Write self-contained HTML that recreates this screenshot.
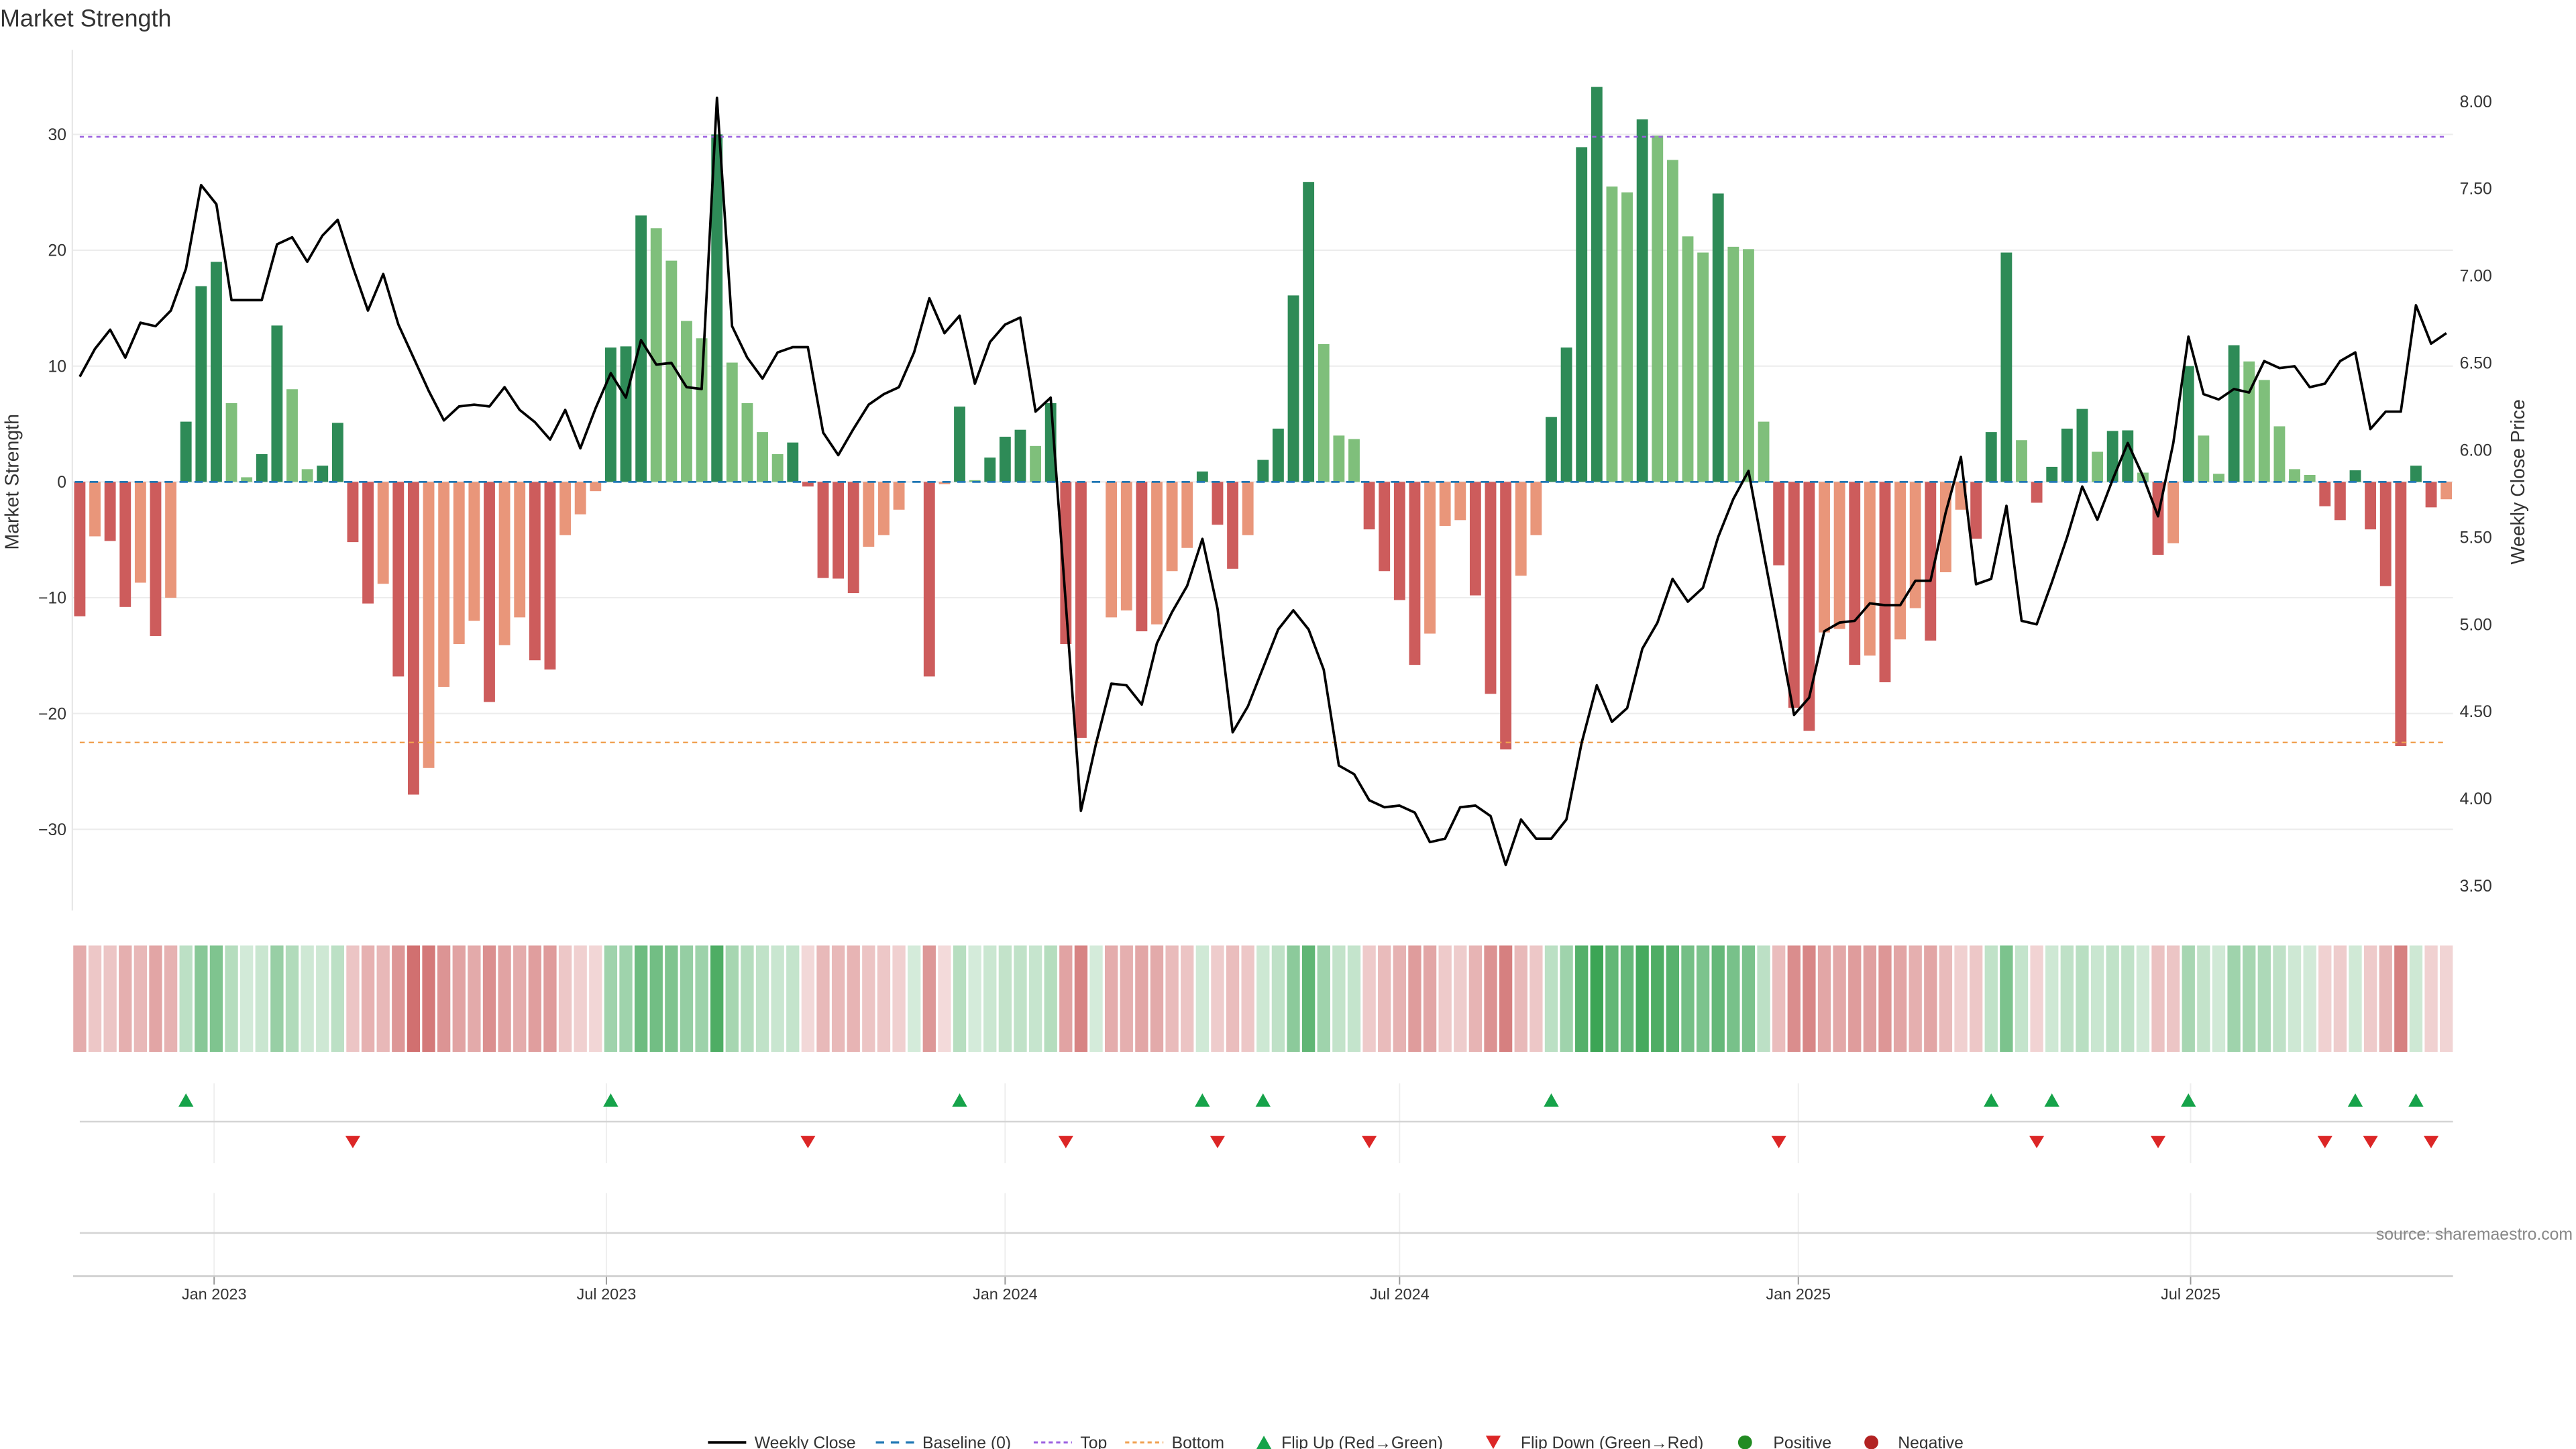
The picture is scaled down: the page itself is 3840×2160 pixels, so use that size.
<!DOCTYPE html>
<html><head><meta charset="utf-8"><title>Market Strength</title>
<style>
html,body{margin:0;padding:0;background:#fff;}
svg{display:block;font-family:"Liberation Sans","DejaVu Sans",sans-serif;}
</style></head>
<body>
<svg id="chart" width="3840" height="2160" viewBox="0 0 1550 872" preserveAspectRatio="none" xmlns="http://www.w3.org/2000/svg">
<text x="0" y="16" font-size="14.5" fill="#333">Market Strength</text>
<g id="main"></g>
</svg>
<script>
const startDate = "2022-10-31";
const strength = [-11.6,-4.7,-5.1,-10.8,-8.7,-13.3,-10,5.2,16.9,19,6.8,0.4,2.4,13.5,8,1.1,1.4,5.1,-5.2,-10.5,-8.8,-16.8,-27,-24.7,-17.7,-14,-12,-19,-14.1,-11.7,-15.4,-16.2,-4.6,-2.8,-0.8,11.6,11.7,23,21.9,19.1,
13.9,12.4,30,10.3,6.8,4.3,2.4,3.4,-0.4,-8.3,-8.35,-9.6,-5.6,-4.6,-2.4,0,-16.8,-0.2,6.5,0.15,2.1,3.9,4.5,3.1,6.8,-14,-22.1,0,-11.7,-11.1,-12.9,-12.3,-7.7,-5.7,0.9,-3.7,-7.5,-4.6,
1.9,4.6,16.1,25.9,11.9,4,3.7,-4.1,-7.7,-10.2,-15.8,-13.1,-3.8,-3.3,-9.8,-18.3,-23.1,-8.1,-4.6,5.6,11.6,28.9,34.1,25.5,25,31.3,29.9,27.8,21.2,19.8,24.9,20.3,20.1,5.2,-7.2,-19.5,-21.5,-13,
-12.7,-15.8,-15,-17.3,-13.6,-10.9,-13.7,-7.8,-2.4,-4.9,4.3,19.8,3.6,-1.8,1.3,4.6,6.3,2.6,4.4,4.45,0.8,-6.3,-5.3,10,4,0.7,11.8,10.4,8.8,4.8,1.1,0.6,-2.1,-3.3,1,-4.1,-9,-22.8,1.4,-2.2,-1.5];
const closePrice = [6.42,6.58,6.69,6.53,6.73,6.71,6.80,7.04,7.52,7.41,6.86,6.86,6.86,7.18,7.22,7.08,7.23,7.32,7.05,6.80,7.01,6.72,6.53,6.34,6.17,6.25,6.26,6.25,6.36,6.23,6.16,6.06,6.23,6.01,6.24,6.44,6.30,6.63,6.49,6.50,
6.36,6.35,8.02,6.71,6.53,6.41,6.56,6.59,6.59,6.10,5.97,6.12,6.26,6.32,6.36,6.56,6.87,6.67,6.77,6.38,6.62,6.72,6.76,6.22,6.30,5.12,3.93,4.32,4.66,4.65,4.54,4.89,5.07,5.22,5.49,5.09,4.38,4.53,
4.75,4.97,5.08,4.97,4.74,4.19,4.14,3.99,3.95,3.96,3.92,3.75,3.77,3.95,3.96,3.90,3.62,3.88,3.77,3.77,3.88,4.32,4.65,4.44,4.52,4.86,5.01,5.26,5.13,5.21,5.50,5.72,5.88,5.41,4.95,4.48,4.58,4.96,
5.01,5.02,5.12,5.11,5.11,5.25,5.25,5.64,5.96,5.23,5.26,5.68,5.02,5.00,5.24,5.50,5.79,5.60,5.83,6.04,5.85,5.62,6.04,6.65,6.32,6.29,6.35,6.33,6.51,6.47,6.48,6.36,6.38,6.51,6.56,6.12,6.22,6.22,6.83,6.61,6.67];
const leftTicks = [-30,-20,-10,0,10,20,30];
const rightTicks = [3.5,4.0,4.5,5.0,5.5,6.0,6.5,7.0,7.5,8.0];
const xTickDates = ["2023-01-01","2023-07-01","2024-01-01","2024-07-01","2025-01-01","2025-07-01"];
const xTickLabels = ["Jan 2023","Jul 2023","Jan 2024","Jul 2024","Jan 2025","Jul 2025"];
const topLevel = [29.8];
const bottomLevel = [-22.5];

const NS="http://www.w3.org/2000/svg";
const g=document.getElementById('main');
function mk(tag,attrs,parent){const e=document.createElementNS(NS,tag);for(const k in attrs)e.setAttribute(k,attrs[k]);(parent||g).appendChild(e);return e;}
const X0=48, STEP=9.128, PL=44, PR=1476;
const t0=Date.parse(startDate+"T00:00:00Z");
function xIdx(i){return X0+i*STEP;}
function xDate(d){return X0+(Date.parse(d+"T00:00:00Z")-t0)/864e5/7*STEP;}
function yL(v){return 290-v*6.97;}
function yR(p){return 61+(8-p)*104.9;}
function fmt(v){return v<0?"\u2212"+Math.abs(v):String(v);}

// grid
leftTicks.forEach(v=>{
  const l=mk('line',{x1:PL,x2:PR,y1:yL(v),y2:yL(v),stroke:'#ececec','stroke-width':0.8});
  
  
  const t=mk('text',{x:40,y:yL(v)+3.5,'font-size':10,'text-anchor':'end',fill:'#333'});
  t.textContent=fmt(v);
  
  
});
rightTicks.forEach(p=>{
  const t=mk('text',{x:1480,y:yR(p)+3.5,'font-size':10,fill:'#333'});
  t.textContent=p.toFixed(2);
  
  
});
const ls=mk('line',{x1:43.5,x2:43.5,y1:30,y2:548,stroke:'#e4e4e4','stroke-width':0.8});


let yt=mk('text',{x:0,y:0,'font-size':11.5,fill:'#333','text-anchor':'middle',transform:'translate(11,290) rotate(-90)'});
yt.textContent='Market Strength';


yt=mk('text',{x:0,y:0,'font-size':11.5,fill:'#333','text-anchor':'middle',transform:'translate(1519,290) rotate(-90)'});
yt.textContent='Weekly Close Price';



// shading rule: dark if |v| grows vs previous nonzero of same sign or sign flips
const barW=6.8;
let prev=0;
const shades=strength.map(v=>{
  let dark;
  if(v===0){return 'none';}
  if(prev===0||Math.sign(prev)!==Math.sign(v))dark=true;else dark=Math.abs(v)>=Math.abs(prev);
  prev=v;
  return v>0?(dark?'#2e8b57':'#7fbf7b'):(dark?'#cd5c5c':'#e9967a');
});
strength.forEach((v,i)=>{
  if(v===0)return;
  const y=Math.min(yL(v),yL(0)),h=Math.abs(yL(v)-yL(0));
  const r=mk('rect',{x:xIdx(i)-barW/2,y:y,width:barW,height:Math.max(h,0.4),fill:shades[i]});
  
  
});
// baseline
const bl=mk('line',{x1:X0-3,x2:xIdx(strength.length-1)+3,y1:yL(0),y2:yL(0),stroke:'#1f77b4','stroke-width':1.1,'stroke-dasharray':'5 4'});


const tl=mk('line',{x1:X0,x2:xIdx(strength.length-1),y1:yL(topLevel[0]),y2:yL(topLevel[0]),stroke:'#9b5fe0','stroke-width':1,'stroke-dasharray':'2.5 2.5'});


const bt=mk('line',{x1:X0,x2:xIdx(strength.length-1),y1:yL(bottomLevel[0]),y2:yL(bottomLevel[0]),stroke:'#f0a050','stroke-width':1,'stroke-dasharray':'3 2.5'});


// close line
const pts=closePrice.map((p,i)=>xIdx(i).toFixed(1)+','+yR(p).toFixed(1)).join(' ');
const pl=mk('polyline',{points:pts,fill:'none',stroke:'#000','stroke-width':1.5,'stroke-linejoin':'round'});



// heat strip
strength.forEach((v,i)=>{
  const a=Math.min(1,0.22+Math.abs(v)/34*0.78);
  const col=v>=0?'rgba(60,165,85,'+a.toFixed(2)+')':'rgba(200,85,85,'+a.toFixed(2)+')';
  const r=mk('rect',{x:xIdx(i)-3.9,y:569,width:7.8,height:64,fill:col});
  
  
});

// lower panels
xTickDates.forEach((d,k)=>{
  const x=xDate(d);
  let l=mk('line',{x1:x,x2:x,y1:652,y2:700,stroke:'#eee','stroke-width':0.8});
  
  
  l=mk('line',{x1:x,x2:x,y1:718,y2:768,stroke:'#eee','stroke-width':0.8});
  
  
  l=mk('line',{x1:x,x2:x,y1:768,y2:773,stroke:'#999','stroke-width':0.8});
  
  
  const t=mk('text',{x:x,y:782,'font-size':9.5,'text-anchor':'middle',fill:'#333'});
  t.textContent=xTickLabels[k];
  
  
});
let hl=mk('line',{x1:X0,x2:PR,y1:675,y2:675,stroke:'#d4d4d4','stroke-width':1});


hl=mk('line',{x1:X0,x2:PR,y1:742,y2:742,stroke:'#d4d4d4','stroke-width':1});


hl=mk('line',{x1:PL,x2:PR,y1:768,y2:768,stroke:'#ccc','stroke-width':1});



let sgn=0;
strength.forEach((v,i)=>{
  if(v===0)return;
  const s=Math.sign(v);
  if(sgn!==0&&s!==sgn){
    const x=xIdx(i);
    let tri;
    if(s>0){tri=mk('polygon',{points:`${x-4.5},666 ${x+4.5},666 ${x},658`,fill:'#16a34a'});
      }
    else{tri=mk('polygon',{points:`${x-4.5},683.5 ${x+4.5},683.5 ${x},691`,fill:'#dc2626'});
      }
    
  }
  sgn=s;
});
const src=mk('text',{x:1548,y:746,'font-size':10,'text-anchor':'end',fill:'#888'});
src.textContent='source: sharemaestro.com';



// legend
const lg=mk('g',{});


function ltxt(x,s){const t=mk('text',{x:x,y:871.5,'font-size':10,fill:'#333'},lg);t.textContent=s;}
let e=mk('line',{x1:426,x2:449,y1:868,y2:868,stroke:'#000','stroke-width':1.5},lg);


ltxt(454,'Weekly Close');
e=mk('line',{x1:527,x2:550,y1:868,y2:868,stroke:'#1f77b4','stroke-width':1.3,'stroke-dasharray':'5 4'},lg);


ltxt(555,'Baseline (0)');
e=mk('line',{x1:622,x2:645,y1:868,y2:868,stroke:'#9b5fe0','stroke-width':1.2,'stroke-dasharray':'2.5 2'},lg);


ltxt(650,'Top');
e=mk('line',{x1:677,x2:700,y1:868,y2:868,stroke:'#f0a050','stroke-width':1.2,'stroke-dasharray':'2.5 2'},lg);


ltxt(705,'Bottom');
e=mk('polygon',{points:'756,872 765,872 760.5,864',fill:'#16a34a'},lg);


ltxt(771,'Flip Up (Red\u2192Green)');
e=mk('polygon',{points:'894,864 903,864 898.5,872',fill:'#dc2626'},lg);


ltxt(915,'Flip Down (Green\u2192Red)');
e=mk('circle',{cx:1050,cy:868,r:4.2,fill:'#228b22'},lg);


ltxt(1067,'Positive');
e=mk('circle',{cx:1126,cy:868,r:4.2,fill:'#b22222'},lg);


ltxt(1142,'Negative');
</script>
</body></html>
